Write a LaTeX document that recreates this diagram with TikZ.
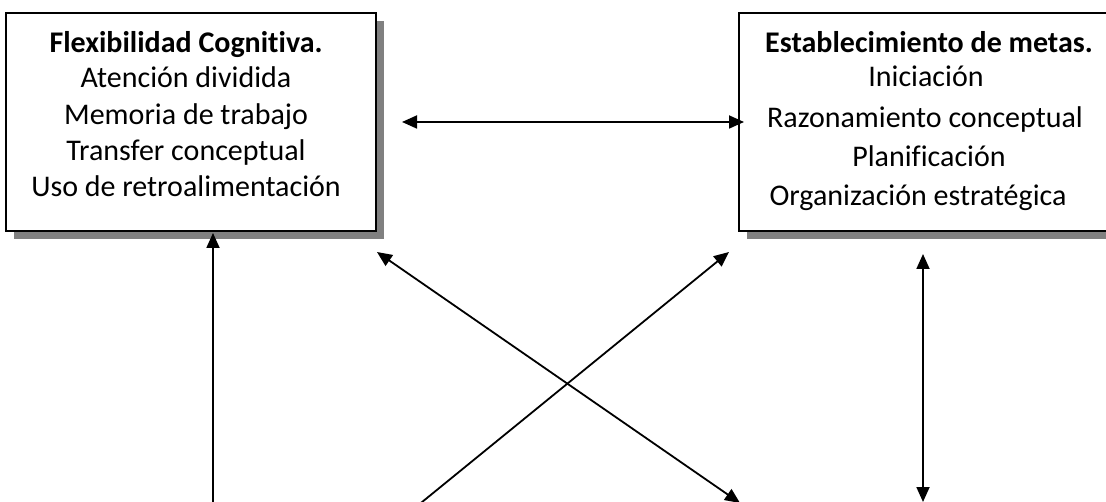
\documentclass[tikz,border=0pt]{standalone}
\usepackage{fontspec}
\setmainfont[Ligatures=CommonOff]{Carlito}
\usetikzlibrary{arrows.meta,shadows}
\begin{document}
\begin{tikzpicture}[x=1pt,y=-1pt,
  box/.style={draw, line width=1.8pt, fill=white,
    drop shadow={shadow xshift=8pt, shadow yshift=-8pt, fill=black!50, opacity=1},
    minimum height=218pt, inner sep=0pt},
  txt/.style={anchor=base, inner sep=0pt, font=\fontsize{30}{36}\selectfont},
  ttl/.style={anchor=base, inner sep=0pt, font=\fontsize{30}{36}\selectfont\bfseries},
  conn/.style={line width=1.8pt, -{Triangle[length=15pt,width=13pt]}},
  conn2/.style={line width=1.8pt, {Triangle[length=15pt,width=13pt]}-{Triangle[length=15pt,width=13pt]}}]
\useasboundingbox (0,0) rectangle (1106,502);
\clip (0,0) rectangle (1106,502);
\fill[white] (0,0) rectangle (1106,502);

\node[box, minimum width=370pt] (flex) at (191,122) {};
\node[box, minimum width=420pt] (metas) at (949,122) {};

\node[ttl] (f0) at (186,53) {Flexibilidad Cognitiva.};
\node[txt] (f1) at (186,88) {Atención dividida};
\node[txt] (f2) at (186,125) {Memoria de trabajo};
\node[txt] (f3) at (186,161) {Transfer conceptual};
\node[txt] (f4) at (186,197) {Uso de retroalimentación};

\node[ttl] (m0) at (929,53) {Establecimiento de metas.};
\node[txt] (m1) at (926,87) {Iniciación};
\node[txt] (m2) at (925,128) {Razonamiento conceptual};
\node[txt] (m3) at (929,167) {Planificación};
\node[txt] (m4) at (918,206) {Organización estratégica};

\coordinate (hL) at (402,122);
\coordinate (hR) at (744,122);
\coordinate (lvT) at (213,233);
\coordinate (lvB) at (213,520);
\coordinate (d1T) at (377,252);
\coordinate (d1B) at (740,503);
\coordinate (d2T) at (729,252);
\coordinate (d2B) at (400,520);
\coordinate (rvT) at (923,254);
\coordinate (rvB) at (923,502);

\draw[conn2] (hL) -- (hR);
\draw[conn] (lvB) -- (lvT);
\draw[conn2] (d1T) -- (d1B);
\draw[conn] (d2B) -- (d2T);
\draw[conn2] (rvT) -- (rvB);
\end{tikzpicture}
\end{document}
